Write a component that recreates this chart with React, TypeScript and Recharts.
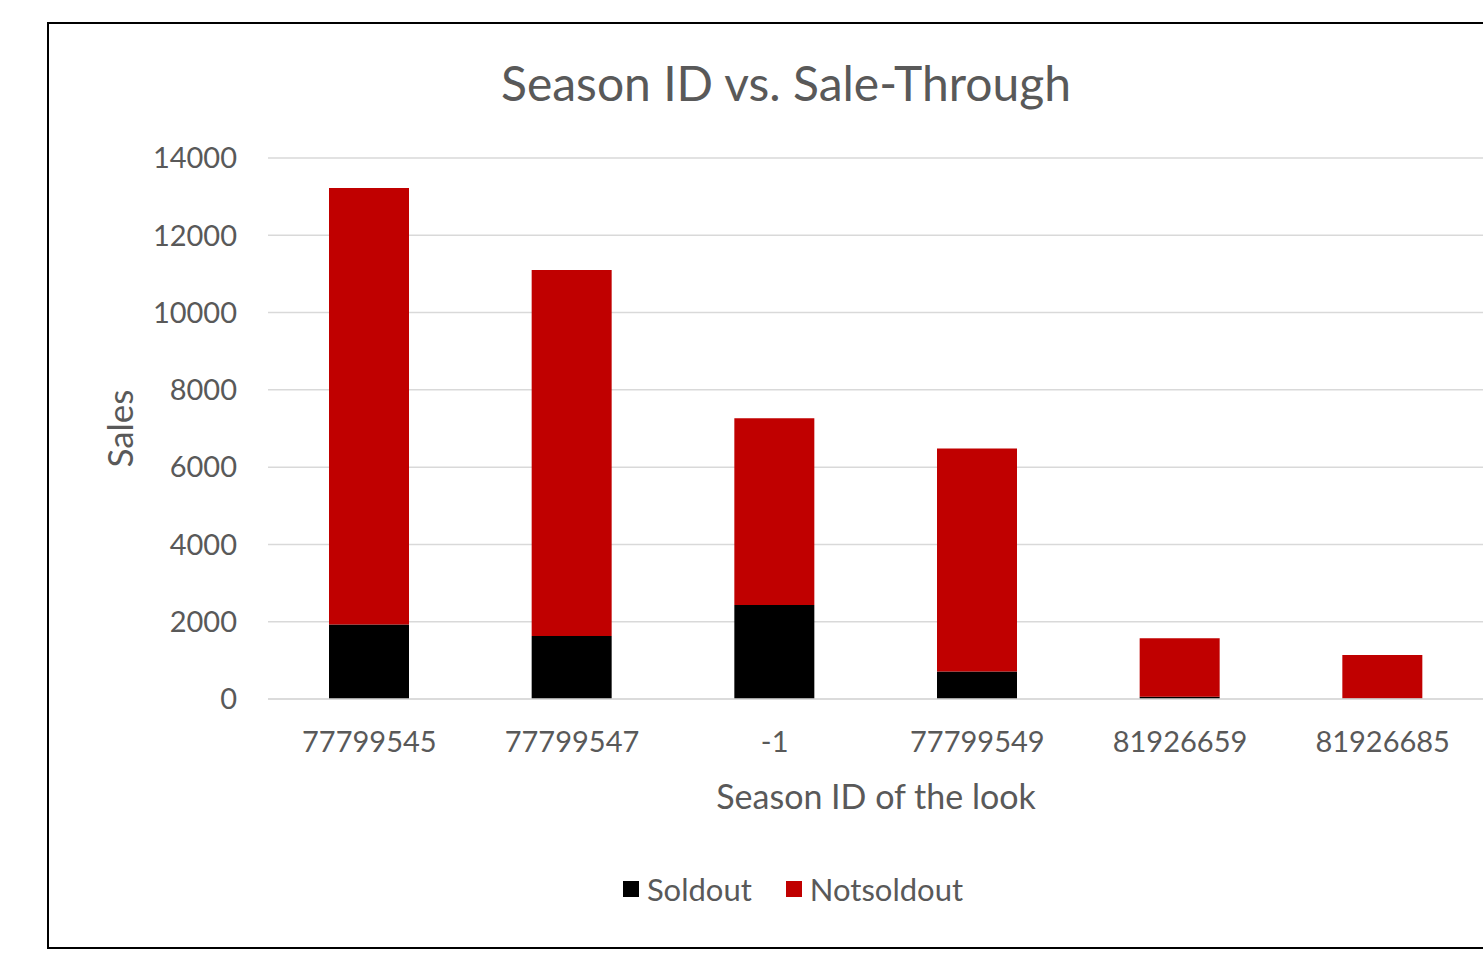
import React from "react";
import { BarChart, Bar, XAxis, YAxis, CartesianGrid, Legend } from "recharts";

// Season IDs along the category axis
const seasonIds = ["77799545", "77799547", "-1", "77799549", "81926659", "81926685"];
// Units sold out per season
const soldout = [1930, 1630, 2430, 710, 55, 10];
// Units not sold out per season (stacked on top)
const notsoldout = [11295, 9470, 4835, 5770, 1515, 1130];
// Value axis ticks
const yTicks = [0, 2000, 4000, 6000, 8000, 10000, 12000, 14000];
// Legend order
const seriesOrder = ["Soldout", "Notsoldout"];

const data = seasonIds.map((id, i) => ({
  season: id,
  Soldout: soldout[i],
  Notsoldout: notsoldout[i],
}));

const FONT = "Lato, 'Open Sans', sans-serif";
const GREY = "#595959";

const renderLegend = (props: any) => {
  const items = [...(props.payload || [])].sort(
    (a: any, b: any) => seriesOrder.indexOf(a.value) - seriesOrder.indexOf(b.value)
  );
  return (
    <div
      style={{
        display: "flex",
        justifyContent: "center",
        alignItems: "center",
        gap: 34,
        fontFamily: FONT,
        fontSize: 31,
        color: GREY,
      }}
    >
      {items.map((e: any) => (
        <span key={e.value} style={{ display: "flex", alignItems: "center" }}>
          <span
            style={{
              display: "inline-block",
              width: 16,
              height: 16,
              background: e.color,
              marginRight: 8,
            }}
          />
          {e.value}
        </span>
      ))}
    </div>
  );
};

export default function App() {
  return (
    <div
      style={{
        position: "absolute",
        left: 0,
        top: 0,
        width: 1483,
        height: 957,
        overflow: "hidden",
        background: "#ffffff",
      }}
    >
      <div
        style={{
          position: "absolute",
          left: 47,
          top: 22,
          width: 1474,
          height: 923,
          border: "2px solid #000000",
          background: "#ffffff",
        }}
      >
        <div
          style={{
            position: "absolute",
            left: 0,
            width: 1474,
            top: 29,
            textAlign: "center",
            fontFamily: FONT,
            fontSize: 48,
            color: GREY,
            lineHeight: "60px",
          }}
        >
          Season ID vs. Sale-Through
        </div>
        <BarChart
          width={1474}
          height={923}
          data={data}
          margin={{ top: 134, right: 39, left: 0, bottom: 0 }}
          barSize={80}
        >
          <CartesianGrid vertical={false} stroke="#D9D9D9" strokeWidth={1.5} />
          <XAxis
            dataKey="season"
            height={248}
            tickSize={0}
            tickMargin={32}
            axisLine={{ stroke: "#D9D9D9", strokeWidth: 1.5 }}
            tickLine={false}
            tick={{ fill: GREY, fontSize: 29, fontFamily: FONT }}
            label={{
              value: "Season ID of the look",
              position: "insideTop",
              offset: 86,
              fill: GREY,
              fontSize: 34,
              fontFamily: FONT,
            }}
          />
          <YAxis
            width={219}
            domain={[0, 14000]}
            ticks={yTicks}
            tickSize={0}
            tickMargin={31}
            axisLine={false}
            tickLine={false}
            tick={{ fill: GREY, fontSize: 29, fontFamily: FONT }}
            label={{
              value: "Sales",
              angle: -90,
              position: "insideLeft",
              offset: 72,
              fill: GREY,
              fontSize: 35,
              fontFamily: FONT,
              style: { textAnchor: "middle" },
            }}
          />
          <Legend
            verticalAlign="middle"
            layout="horizontal"
            content={renderLegend}
            wrapperStyle={{ left: 7, width: 1474, top: 846 }}
          />
          <Bar dataKey="Soldout" stackId="s" fill="#000000" isAnimationActive={false} />
          <Bar dataKey="Notsoldout" stackId="s" fill="#C00000" isAnimationActive={false} />
        </BarChart>
      </div>
    </div>
  );
}
